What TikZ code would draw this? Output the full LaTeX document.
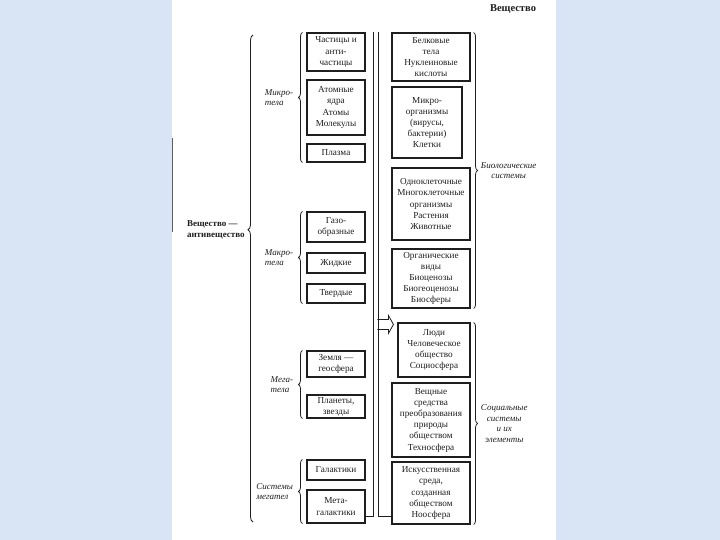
\documentclass[tikz,border=0pt]{standalone}
\usepackage{fontspec}
\setmainfont{Liberation Serif}
\definecolor{ink}{HTML}{1E1E1E}
\definecolor{paper}{HTML}{D9E5F4}
\usetikzlibrary{calc, positioning, decorations.pathreplacing}

\begin{document}
\begin{tikzpicture}[x=1pt, y=-1pt,
  box/.style={draw=ink, line width=1.1pt, fill=white, align=center,
              inner sep=0pt, text=ink, font=\fontsize{9.2}{11.2}\selectfont},
  lbox/.style={box, minimum width=58pt},
  rbox/.style={box, minimum width=78pt},
  grp/.style={draw=ink, line width=0.8pt, decorate,
              decoration={brace, amplitude=4pt}},
  tag/.style={font=\fontsize{9}{10.5}\selectfont\itshape, text=ink,
              align=left, inner sep=1pt},
  rail/.style={draw=ink, line width=0.8pt},
]
\useasboundingbox (0,0) rectangle (720,540);
\fill[paper] (0,0) rectangle (720,540);
\fill[white] (172,0) rectangle (556,540);
\draw[ink!70, line width=0.8pt] (172,138) -- (172,232);

\node[font=\fontsize{10.5}{12}\selectfont\bfseries, text=ink] (title) at (513,9) {Вещество};

% left column
\node[lbox, minimum height=38pt] (L1) at (336,52) {Частицы и\\анти-\\частицы};
\node[lbox, minimum height=55pt] (L2) at (336,107.5) {Атомные\\ядра\\Атомы\\Молекулы};
\node[lbox, minimum height=18pt] (L3) at (336,153) {Плазма};
\node[lbox, minimum height=30pt] (L4) at (336,227) {Газо-\\образные};
\node[lbox, minimum height=20pt] (L5) at (336,263) {Жидкие};
\node[lbox, minimum height=19pt] (L6) at (336,293.5) {Твердые};
\node[lbox, minimum height=26pt] (L7) at (336,364) {Земля —\\геосфера};
\node[lbox, minimum height=23pt] (L8) at (336,406.5) {Планеты,\\звезды};
\node[lbox, minimum height=20pt] (L9) at (336,470) {Галактики};
\node[lbox, minimum height=33pt] (L10) at (336,506.5) {Мета-\\галактики};

% right column
\node[rbox, minimum height=48pt] (R1) at (431,57) {Белковые\\тела\\Нуклеиновые\\кислоты};
\node[rbox, minimum width=70pt, minimum height=71pt] (R2) at (427,122.5) {Микро-\\организмы\\(вирусы,\\бактерии)\\Клетки};
\node[rbox, minimum height=72pt] (R3) at (431,204) {Одноклеточные\\Многоклеточные\\организмы\\Растения\\Животные};
\node[rbox, minimum height=59pt] (R4) at (431,278.5) {Органические\\виды\\Биоценозы\\Биогеоценозы\\Биосферы};
\node[rbox, minimum width=72pt, minimum height=54pt] (R5) at (434,350) {Люди\\Человеческое\\общество\\Социосфера};
\node[rbox, minimum height=74pt] (R6) at (431,420) {Вещные\\средства\\преобразования\\природы\\обществом\\Техносфера};
\node[rbox, minimum height=62pt] (R7) at (431,493) {Искусственная\\среда,\\созданная\\обществом\\Ноосфера};

% braces
\draw[grp, decoration={brace, amplitude=5pt, aspect=0.6}] (253,522) -- (253,35)
  node[pos=0.6, left=7pt, tag, font=\fontsize{9}{11}\selectfont\bfseries] (all) {Вещество —\\антивещество};
\draw[grp] ([xshift=-4pt]L3.south west) -- ([xshift=-4pt]L1.north west)
  node[midway, left=8pt, tag] (micro) {Микро-\\тела};
\draw[grp] ([xshift=-4pt]L6.south west) -- ([xshift=-4pt]L4.north west)
  node[midway, left=8pt, tag] (macro) {Макро-\\тела};
\draw[grp] ([xshift=-4pt]L8.south west) -- ([xshift=-4pt]L7.north west)
  node[midway, left=8pt, tag] (mega) {Мега-\\тела};
\draw[grp] ([xshift=-4pt]L10.south west) -- ([xshift=-4pt]L9.north west)
  node[midway, left=8pt, tag] (sys) {Системы\\мегател};
\draw[grp] ([xshift=3pt]R1.north east) -- ([xshift=3pt]R4.south east)
  node[midway, right=6pt, tag, align=center] (bio) {Биологические\\системы};
\draw[grp] ([xshift=3pt]R5.north east) -- ([xshift=3pt]R7.south east)
  node[midway, right=6pt, tag, align=center] (soc) {Социальные\\системы\\и их\\элементы};

% double line and arrow
\coordinate (ltop) at (373,32);
\coordinate (rtop) at (378,32);
\coordinate (lend) at (373,516);
\coordinate (rend) at (378,516);
\draw[rail] (ltop) -- (lend) -- (lend -| L10.east);
\draw[rail] (rtop) -- (rend) -- (rend -| R7.west);
\coordinate (tip) at ([xshift=-4pt, yshift=-2pt]R5.north west);
\draw[rail] ([shift={(-16,-5)}]tip) -- ++(11,0) -- ++(0,-4) -- (tip)
  -- ++(-5,9) -- ++(0,-4) -- ++(-11,0);
\end{tikzpicture}
\end{document}
